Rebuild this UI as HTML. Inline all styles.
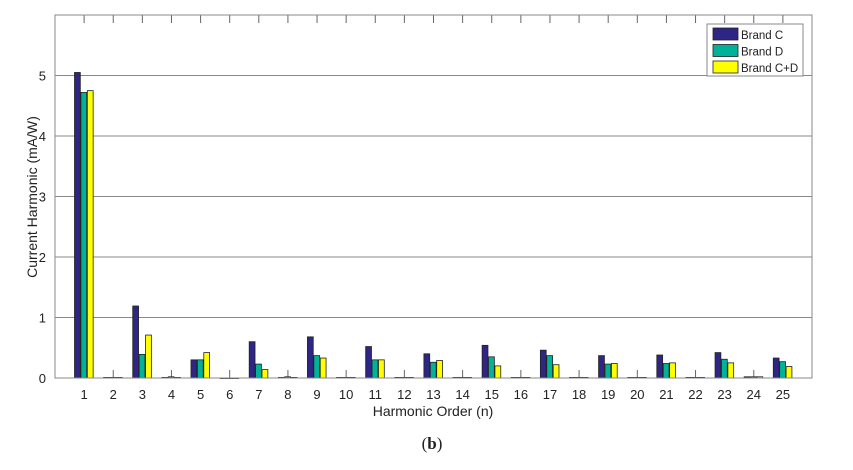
<!DOCTYPE html>
<html><head><meta charset="utf-8"><style>
html,body{margin:0;padding:0;background:#fff;width:853px;height:470px;overflow:hidden}
svg text{font-family:"Liberation Sans",Arial,sans-serif;fill:#222}
</style></head><body>
<svg id="s" width="853" height="470" xmlns="http://www.w3.org/2000/svg"></svg>
<script>
const L=55,R=812,T=15,B=378;
const xs=u=>L+(R-L)*u/26, ys=v=>B-(B-T)*v/6;
const d=[[5.05,4.72,4.75],[.01,.01,.01],[1.19,.39,.71],[.01,.02,.01],[.30,.30,.42],[0,0,0],[.60,.23,.14],[.01,.02,.01],[.68,.37,.33],[.01,.01,.01],[.52,.30,.30],[.01,.01,.01],[.40,.26,.29],[.01,.01,.01],[.54,.35,.20],[.01,.01,.01],[.46,.37,.22],[.01,.01,.01],[.37,.23,.24],[.01,.01,.01],[.38,.24,.25],[.01,.01,.01],[.42,.31,.25],[.02,.02,.02],[.33,.27,.19]];
const col=["#2e2585","#00b398","#ffff00"];
let h='';
for(let g=1;g<=5;g++)h+=`<line x1="${L}" x2="${R}" y1="${ys(g)}" y2="${ys(g)}" stroke="#888" stroke-width="1"/>`;
for(let i=1;i<=25;i++){
 const x=xs(i);
 h+=`<line x1="${x}" x2="${x}" y1="${B}" y2="${B-8}" stroke="#666"/><line x1="${x}" x2="${x}" y1="${T}" y2="${T+8}" stroke="#666"/>`;
 h+=`<text x="${x}" y="${B+21}" font-size="13" text-anchor="middle">${i}</text>`;
 d[i-1].forEach((v,k)=>{const x0=xs(i-0.33+k*0.22);const w=xs(0.2)-xs(0);const y=ys(v);
  h+=`<rect x="${x0}" y="${y}" width="${w}" height="${Math.max(B-y,0.5)}" fill="${col[k]}" stroke="#222" stroke-width="0.8"/>`;});
}
for(let g=0;g<=5;g++)h+=`<text x="${L-9}" y="${ys(g)+5}" font-size="13" text-anchor="end">${g}</text>`;
h+=`<rect x="${L}" y="${T}" width="${R-L}" height="${B-T}" fill="none" stroke="#888"/>`;
h+=`<rect x="707" y="24" width="96" height="52" fill="#fff" stroke="#888"/>`;
["Brand C","Brand D","Brand C+D"].forEach((t,k)=>{const y=28+k*16.5;
 h+=`<rect x="713" y="${y}" width="25" height="12" fill="${col[k]}" stroke="#222" stroke-width="0.8"/><text x="741" y="${y+11}" font-size="11.5">${t}</text>`;});
h+=`<text x="433" y="416" font-size="14" text-anchor="middle">Harmonic Order (n)</text>`;
h+=`<text transform="translate(37,197) rotate(-90)" font-size="14" text-anchor="middle">Current Harmonic (mA/W)</text>`;
h+=`<text x="432" y="449" font-size="17" text-anchor="middle" style="font-family:'Liberation Serif',serif">(<tspan font-weight="bold">b</tspan>)</text>`;
document.getElementById('s').innerHTML=h;
</script>
</body></html>
